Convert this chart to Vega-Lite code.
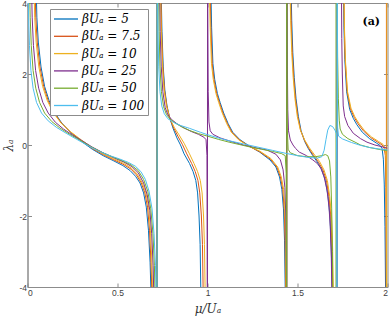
{
"$schema":"https://vega.github.io/schema/vega-lite/v6.json",
"width":360,"height":284,
"autosize":{"type":"none"},
"padding":{"left":27.5,"top":3,"right":2.5,"bottom":30},
"background":"white",
"config":{
 "view":{"stroke":"#8c8c8c","strokeWidth":1},
 "axis":{"grid":false,"domainColor":"#8c8c8c","tickColor":"#8c8c8c","tickSize":-4,"labelColor":"#404040","labelFont":"Liberation Sans","labelFontSize":8.5,"labelPadding":5,"titleFont":"DejaVu Serif","titleFontStyle":"italic","titleFontWeight":"normal","titleFontSize":12,"titleColor":"#333333"}
},
"datasets":{
"ann":[{"x":1.91,"y":3.46,"t":"(a)"}],
"curves":[
{"s":"5","x":0.048,"y":4.5},{"s":"5","x":0.052,"y":3.6},{"s":"5","x":0.06,"y":2.9},{"s":"5","x":0.075,"y":2.2},{"s":"5","x":0.095,"y":1.65},{"s":"5","x":0.12,"y":1.25},{"s":"5","x":0.15,"y":0.92},{"s":"5","x":0.19,"y":0.62},{"s":"5","x":0.24,"y":0.35},{"s":"5","x":0.3,"y":0.1},{"s":"5","x":0.36,"y":-0.12},{"s":"5","x":0.42,"y":-0.3},{"s":"5","x":0.48,"y":-0.45},{"s":"5","x":0.53,"y":-0.58},{"s":"5","x":0.57,"y":-0.72},{"s":"5","x":0.6,"y":-0.88},{"s":"5","x":0.625,"y":-1.07},{"s":"5","x":0.645,"y":-1.35},{"s":"5","x":0.66,"y":-1.75},{"s":"5","x":0.672,"y":-2.4},{"s":"5","x":0.681,"y":-3.3},{"s":"5","x":0.688,"y":-4.5},{"s":"5","x":0.7195,"y":-60},{"s":"5","x":0.7205,"y":60},
{"s":"5","x":0.742,"y":4.5},{"s":"5","x":0.747,"y":3.2},{"s":"5","x":0.754,"y":2.2},{"s":"5","x":0.763,"y":1.55},{"s":"5","x":0.775,"y":1.1},{"s":"5","x":0.79,"y":0.76},{"s":"5","x":0.81,"y":0.45},{"s":"5","x":0.83,"y":0.2},{"s":"5","x":0.85,"y":0},{"s":"5","x":0.87,"y":-0.25},{"s":"5","x":0.9,"y":-0.52},{"s":"5","x":0.92,"y":-0.75},{"s":"5","x":0.935,"y":-1},{"s":"5","x":0.945,"y":-1.35},{"s":"5","x":0.953,"y":-2},{"s":"5","x":0.959,"y":-2.8},{"s":"5","x":0.964,"y":-4.5},{"s":"5","x":0.9995,"y":-60},{"s":"5","x":1.0005,"y":60},
{"s":"5","x":1.018,"y":4.5},{"s":"5","x":1.023,"y":3.3},{"s":"5","x":1.03,"y":2.3},{"s":"5","x":1.04,"y":1.85},{"s":"5","x":1.055,"y":1.45},{"s":"5","x":1.07,"y":1.2},{"s":"5","x":1.09,"y":0.9},{"s":"5","x":1.115,"y":0.6},{"s":"5","x":1.14,"y":0.36},{"s":"5","x":1.18,"y":0.15},{"s":"5","x":1.236,"y":-0.04},{"s":"5","x":1.29,"y":-0.2},{"s":"5","x":1.347,"y":-0.42},{"s":"5","x":1.38,"y":-0.62},{"s":"5","x":1.4,"y":-0.9},{"s":"5","x":1.413,"y":-1.25},{"s":"5","x":1.422,"y":-1.8},{"s":"5","x":1.428,"y":-2.7},{"s":"5","x":1.433,"y":-4.5},{"s":"5","x":1.4395,"y":-60},{"s":"5","x":1.4405,"y":60},
{"s":"5","x":1.464,"y":4.5},{"s":"5","x":1.468,"y":3.5},{"s":"5","x":1.474,"y":2.6},{"s":"5","x":1.482,"y":1.9},{"s":"5","x":1.492,"y":1.3},{"s":"5","x":1.505,"y":0.8},{"s":"5","x":1.52,"y":0.4},{"s":"5","x":1.54,"y":0.1},{"s":"5","x":1.56,"y":-0.1},{"s":"5","x":1.585,"y":-0.3},{"s":"5","x":1.61,"y":-0.48},{"s":"5","x":1.635,"y":-0.7},{"s":"5","x":1.655,"y":-1},{"s":"5","x":1.67,"y":-1.45},{"s":"5","x":1.68,"y":-2},{"s":"5","x":1.688,"y":-2.9},{"s":"5","x":1.694,"y":-4.5},{"s":"5","x":1.7195,"y":-60},{"s":"5","x":1.7205,"y":60},
{"s":"5","x":1.755,"y":4.5},{"s":"5","x":1.758,"y":3.3},{"s":"5","x":1.763,"y":2.4},{"s":"5","x":1.773,"y":1.5},{"s":"5","x":1.79,"y":1.0},{"s":"5","x":1.81,"y":0.75},{"s":"5","x":1.83,"y":0.57},{"s":"5","x":1.86,"y":0.36},{"s":"5","x":1.9,"y":0.18},{"s":"5","x":1.94,"y":0.05},{"s":"5","x":1.958,"y":-0.01},{"s":"5","x":1.97,"y":-0.1},{"s":"5","x":1.977,"y":-0.4},{"s":"5","x":1.982,"y":-1.1},{"s":"5","x":1.986,"y":-2.3},{"s":"5","x":1.99,"y":-4.5},

{"s":"7.5","x":0.042,"y":4.5},{"s":"7.5","x":0.046,"y":3.6},{"s":"7.5","x":0.054,"y":2.9},{"s":"7.5","x":0.069,"y":2.2},{"s":"7.5","x":0.09,"y":1.65},{"s":"7.5","x":0.115,"y":1.25},{"s":"7.5","x":0.146,"y":0.92},{"s":"7.5","x":0.188,"y":0.62},{"s":"7.5","x":0.24,"y":0.36},{"s":"7.5","x":0.3,"y":0.12},{"s":"7.5","x":0.36,"y":-0.1},{"s":"7.5","x":0.42,"y":-0.27},{"s":"7.5","x":0.48,"y":-0.42},{"s":"7.5","x":0.53,"y":-0.54},{"s":"7.5","x":0.575,"y":-0.68},{"s":"7.5","x":0.605,"y":-0.84},{"s":"7.5","x":0.632,"y":-1.07},{"s":"7.5","x":0.652,"y":-1.35},{"s":"7.5","x":0.667,"y":-1.75},{"s":"7.5","x":0.678,"y":-2.4},{"s":"7.5","x":0.686,"y":-3.3},{"s":"7.5","x":0.693,"y":-4.5},{"s":"7.5","x":0.7195,"y":-60},{"s":"7.5","x":0.7205,"y":60},
{"s":"7.5","x":0.74,"y":4.5},{"s":"7.5","x":0.745,"y":3.2},{"s":"7.5","x":0.752,"y":2.2},{"s":"7.5","x":0.761,"y":1.55},{"s":"7.5","x":0.774,"y":1.1},{"s":"7.5","x":0.79,"y":0.76},{"s":"7.5","x":0.812,"y":0.48},{"s":"7.5","x":0.835,"y":0.25},{"s":"7.5","x":0.86,"y":0.02},{"s":"7.5","x":0.885,"y":-0.25},{"s":"7.5","x":0.912,"y":-0.52},{"s":"7.5","x":0.932,"y":-0.75},{"s":"7.5","x":0.947,"y":-1},{"s":"7.5","x":0.957,"y":-1.35},{"s":"7.5","x":0.966,"y":-2},{"s":"7.5","x":0.972,"y":-2.8},{"s":"7.5","x":0.977,"y":-4.5},{"s":"7.5","x":0.9995,"y":-60},{"s":"7.5","x":1.0005,"y":60},
{"s":"7.5","x":1.014,"y":4.5},{"s":"7.5","x":1.019,"y":3.3},{"s":"7.5","x":1.026,"y":2.3},{"s":"7.5","x":1.036,"y":1.85},{"s":"7.5","x":1.051,"y":1.45},{"s":"7.5","x":1.066,"y":1.2},{"s":"7.5","x":1.086,"y":0.9},{"s":"7.5","x":1.111,"y":0.6},{"s":"7.5","x":1.136,"y":0.36},{"s":"7.5","x":1.176,"y":0.15},{"s":"7.5","x":1.232,"y":-0.04},{"s":"7.5","x":1.29,"y":-0.19},{"s":"7.5","x":1.35,"y":-0.4},{"s":"7.5","x":1.385,"y":-0.62},{"s":"7.5","x":1.405,"y":-0.9},{"s":"7.5","x":1.418,"y":-1.25},{"s":"7.5","x":1.426,"y":-1.8},{"s":"7.5","x":1.431,"y":-2.7},{"s":"7.5","x":1.435,"y":-4.5},{"s":"7.5","x":1.4395,"y":-60},{"s":"7.5","x":1.4405,"y":60},
{"s":"7.5","x":1.461,"y":4.5},{"s":"7.5","x":1.465,"y":3.5},{"s":"7.5","x":1.471,"y":2.6},{"s":"7.5","x":1.479,"y":1.9},{"s":"7.5","x":1.489,"y":1.3},{"s":"7.5","x":1.502,"y":0.8},{"s":"7.5","x":1.518,"y":0.4},{"s":"7.5","x":1.54,"y":0.12},{"s":"7.5","x":1.563,"y":-0.1},{"s":"7.5","x":1.59,"y":-0.3},{"s":"7.5","x":1.616,"y":-0.48},{"s":"7.5","x":1.641,"y":-0.7},{"s":"7.5","x":1.661,"y":-1},{"s":"7.5","x":1.675,"y":-1.45},{"s":"7.5","x":1.685,"y":-2},{"s":"7.5","x":1.692,"y":-2.9},{"s":"7.5","x":1.697,"y":-4.5},{"s":"7.5","x":1.7195,"y":-60},{"s":"7.5","x":1.7205,"y":60},
{"s":"7.5","x":1.757,"y":4.5},{"s":"7.5","x":1.76,"y":3.3},{"s":"7.5","x":1.765,"y":2.4},{"s":"7.5","x":1.776,"y":1.5},{"s":"7.5","x":1.794,"y":1.02},{"s":"7.5","x":1.815,"y":0.78},{"s":"7.5","x":1.836,"y":0.6},{"s":"7.5","x":1.866,"y":0.4},{"s":"7.5","x":1.906,"y":0.21},{"s":"7.5","x":1.946,"y":0.08},{"s":"7.5","x":1.97,"y":0.0},{"s":"7.5","x":1.982,"y":-0.1},{"s":"7.5","x":1.988,"y":-0.3},{"s":"7.5","x":1.991,"y":-1.2},{"s":"7.5","x":1.993,"y":-4.5},{"s":"7.5","x":1.9935,"y":-60},{"s":"7.5","x":1.9945,"y":60},

{"s":"10","x":0.036,"y":4.5},{"s":"10","x":0.04,"y":3.6},{"s":"10","x":0.048,"y":2.9},{"s":"10","x":0.063,"y":2.2},{"s":"10","x":0.084,"y":1.65},{"s":"10","x":0.11,"y":1.25},{"s":"10","x":0.142,"y":0.92},{"s":"10","x":0.186,"y":0.62},{"s":"10","x":0.24,"y":0.37},{"s":"10","x":0.3,"y":0.14},{"s":"10","x":0.36,"y":-0.08},{"s":"10","x":0.42,"y":-0.25},{"s":"10","x":0.48,"y":-0.39},{"s":"10","x":0.535,"y":-0.52},{"s":"10","x":0.58,"y":-0.66},{"s":"10","x":0.61,"y":-0.82},{"s":"10","x":0.638,"y":-1.07},{"s":"10","x":0.658,"y":-1.35},{"s":"10","x":0.673,"y":-1.75},{"s":"10","x":0.683,"y":-2.4},{"s":"10","x":0.691,"y":-3.3},{"s":"10","x":0.697,"y":-4.5},{"s":"10","x":0.7195,"y":-60},{"s":"10","x":0.7205,"y":60},
{"s":"10","x":0.738,"y":4.5},{"s":"10","x":0.743,"y":3.2},{"s":"10","x":0.75,"y":2.2},{"s":"10","x":0.759,"y":1.55},{"s":"10","x":0.772,"y":1.1},{"s":"10","x":0.79,"y":0.76},{"s":"10","x":0.815,"y":0.5},{"s":"10","x":0.84,"y":0.3},{"s":"10","x":0.87,"y":0.05},{"s":"10","x":0.9,"y":-0.25},{"s":"10","x":0.925,"y":-0.52},{"s":"10","x":0.945,"y":-0.75},{"s":"10","x":0.96,"y":-1},{"s":"10","x":0.97,"y":-1.35},{"s":"10","x":0.978,"y":-2},{"s":"10","x":0.983,"y":-2.8},{"s":"10","x":0.988,"y":-4.5},{"s":"10","x":0.9995,"y":-60},{"s":"10","x":1.0005,"y":60},
{"s":"10","x":1.01,"y":4.5},{"s":"10","x":1.015,"y":3.3},{"s":"10","x":1.022,"y":2.3},{"s":"10","x":1.032,"y":1.85},{"s":"10","x":1.047,"y":1.45},{"s":"10","x":1.062,"y":1.2},{"s":"10","x":1.082,"y":0.9},{"s":"10","x":1.107,"y":0.6},{"s":"10","x":1.132,"y":0.36},{"s":"10","x":1.172,"y":0.15},{"s":"10","x":1.228,"y":-0.03},{"s":"10","x":1.29,"y":-0.17},{"s":"10","x":1.352,"y":-0.38},{"s":"10","x":1.39,"y":-0.62},{"s":"10","x":1.41,"y":-0.9},{"s":"10","x":1.423,"y":-1.25},{"s":"10","x":1.43,"y":-1.8},{"s":"10","x":1.434,"y":-2.7},{"s":"10","x":1.437,"y":-4.5},{"s":"10","x":1.4395,"y":-60},{"s":"10","x":1.4405,"y":60},
{"s":"10","x":1.458,"y":4.5},{"s":"10","x":1.462,"y":3.5},{"s":"10","x":1.468,"y":2.6},{"s":"10","x":1.476,"y":1.9},{"s":"10","x":1.486,"y":1.3},{"s":"10","x":1.499,"y":0.8},{"s":"10","x":1.516,"y":0.42},{"s":"10","x":1.54,"y":0.14},{"s":"10","x":1.566,"y":-0.08},{"s":"10","x":1.595,"y":-0.28},{"s":"10","x":1.622,"y":-0.46},{"s":"10","x":1.647,"y":-0.7},{"s":"10","x":1.666,"y":-1},{"s":"10","x":1.679,"y":-1.45},{"s":"10","x":1.689,"y":-2},{"s":"10","x":1.695,"y":-2.9},{"s":"10","x":1.7,"y":-4.5},{"s":"10","x":1.7195,"y":-60},{"s":"10","x":1.7205,"y":60},
{"s":"10","x":1.758,"y":4.5},{"s":"10","x":1.761,"y":3.3},{"s":"10","x":1.766,"y":2.4},{"s":"10","x":1.778,"y":1.5},{"s":"10","x":1.797,"y":1.04},{"s":"10","x":1.818,"y":0.8},{"s":"10","x":1.84,"y":0.62},{"s":"10","x":1.87,"y":0.42},{"s":"10","x":1.91,"y":0.23},{"s":"10","x":1.95,"y":0.1},{"s":"10","x":1.975,"y":0.02},{"s":"10","x":1.986,"y":-0.08},{"s":"10","x":1.991,"y":-0.3},{"s":"10","x":1.9935,"y":-1.2},{"s":"10","x":1.9955,"y":-4.5},{"s":"10","x":1.996,"y":-60},{"s":"10","x":1.997,"y":60},

{"s":"25","x":0.022,"y":4.5},{"s":"25","x":0.026,"y":3.6},{"s":"25","x":0.033,"y":2.8},{"s":"25","x":0.045,"y":2.1},{"s":"25","x":0.062,"y":1.6},{"s":"25","x":0.085,"y":1.2},{"s":"25","x":0.115,"y":0.9},{"s":"25","x":0.155,"y":0.64},{"s":"25","x":0.2,"y":0.45},{"s":"25","x":0.25,"y":0.28},{"s":"25","x":0.3,"y":0.13},{"s":"25","x":0.36,"y":-0.06},{"s":"25","x":0.42,"y":-0.22},{"s":"25","x":0.48,"y":-0.36},{"s":"25","x":0.535,"y":-0.48},{"s":"25","x":0.58,"y":-0.61},{"s":"25","x":0.615,"y":-0.78},{"s":"25","x":0.645,"y":-1.07},{"s":"25","x":0.665,"y":-1.4},{"s":"25","x":0.68,"y":-1.85},{"s":"25","x":0.69,"y":-2.5},{"s":"25","x":0.698,"y":-3.4},{"s":"25","x":0.703,"y":-4.5},{"s":"25","x":0.7195,"y":-60},{"s":"25","x":0.7205,"y":60},
{"s":"25","x":0.733,"y":4.5},{"s":"25","x":0.737,"y":3.2},{"s":"25","x":0.743,"y":2.2},{"s":"25","x":0.752,"y":1.5},{"s":"25","x":0.765,"y":1.05},{"s":"25","x":0.78,"y":0.85},{"s":"25","x":0.8,"y":0.72},{"s":"25","x":0.83,"y":0.6},{"s":"25","x":0.87,"y":0.48},{"s":"25","x":0.91,"y":0.38},{"s":"25","x":0.95,"y":0.3},{"s":"25","x":0.98,"y":0.22},{"s":"25","x":0.992,"y":0.15},{"s":"25","x":0.997,"y":-0.3},{"s":"25","x":0.999,"y":-4.5},{"s":"25","x":0.9995,"y":-60},{"s":"25","x":1.0005,"y":60},
{"s":"25","x":1.001,"y":4.5},{"s":"25","x":1.004,"y":1.5},{"s":"25","x":1.008,"y":0.65},{"s":"25","x":1.015,"y":0.4},{"s":"25","x":1.03,"y":0.3},{"s":"25","x":1.07,"y":0.2},{"s":"25","x":1.13,"y":0.1},{"s":"25","x":1.2,"y":0.0},{"s":"25","x":1.27,"y":-0.08},{"s":"25","x":1.33,"y":-0.14},{"s":"25","x":1.38,"y":-0.26},{"s":"25","x":1.405,"y":-0.42},{"s":"25","x":1.42,"y":-0.7},{"s":"25","x":1.43,"y":-1.2},{"s":"25","x":1.435,"y":-2.0},{"s":"25","x":1.4375,"y":-3.2},{"s":"25","x":1.439,"y":-4.5},{"s":"25","x":1.4395,"y":-60},{"s":"25","x":1.4405,"y":60},
{"s":"25","x":1.442,"y":4.5},{"s":"25","x":1.444,"y":2.2},{"s":"25","x":1.446,"y":1.0},{"s":"25","x":1.45,"y":0.4},{"s":"25","x":1.46,"y":0.14},{"s":"25","x":1.475,"y":0.0},{"s":"25","x":1.49,"y":-0.1},{"s":"25","x":1.51,"y":-0.2},{"s":"25","x":1.55,"y":-0.3},{"s":"25","x":1.585,"y":-0.42},{"s":"25","x":1.61,"y":-0.52},{"s":"25","x":1.63,"y":-0.66},{"s":"25","x":1.648,"y":-0.9},{"s":"25","x":1.664,"y":-1.27},{"s":"25","x":1.675,"y":-1.75},{"s":"25","x":1.682,"y":-2.3},{"s":"25","x":1.688,"y":-3.2},{"s":"25","x":1.692,"y":-4.5},{"s":"25","x":1.7195,"y":-60},{"s":"25","x":1.7205,"y":60},
{"s":"25","x":1.744,"y":4.5},{"s":"25","x":1.746,"y":3.0},{"s":"25","x":1.749,"y":2.0},{"s":"25","x":1.754,"y":1.1},{"s":"25","x":1.762,"y":0.8},{"s":"25","x":1.78,"y":0.55},{"s":"25","x":1.81,"y":0.33},{"s":"25","x":1.85,"y":0.18},{"s":"25","x":1.886,"y":0.08},{"s":"25","x":1.93,"y":0.0},{"s":"25","x":1.97,"y":-0.05},{"s":"25","x":2.0,"y":-0.09},

{"s":"50","x":0.011,"y":4.5},{"s":"50","x":0.015,"y":3.6},{"s":"50","x":0.021,"y":2.8},{"s":"50","x":0.031,"y":2.1},{"s":"50","x":0.046,"y":1.6},{"s":"50","x":0.067,"y":1.2},{"s":"50","x":0.095,"y":0.9},{"s":"50","x":0.135,"y":0.66},{"s":"50","x":0.18,"y":0.48},{"s":"50","x":0.235,"y":0.3},{"s":"50","x":0.29,"y":0.14},{"s":"50","x":0.35,"y":-0.04},{"s":"50","x":0.41,"y":-0.2},{"s":"50","x":0.47,"y":-0.33},{"s":"50","x":0.525,"y":-0.44},{"s":"50","x":0.575,"y":-0.56},{"s":"50","x":0.615,"y":-0.72},{"s":"50","x":0.645,"y":-0.97},{"s":"50","x":0.668,"y":-1.3},{"s":"50","x":0.685,"y":-1.8},{"s":"50","x":0.697,"y":-2.5},{"s":"50","x":0.705,"y":-3.4},{"s":"50","x":0.71,"y":-4.5},{"s":"50","x":0.7195,"y":-60},{"s":"50","x":0.7205,"y":60},
{"s":"50","x":0.728,"y":4.5},{"s":"50","x":0.731,"y":3.2},{"s":"50","x":0.736,"y":2.2},{"s":"50","x":0.744,"y":1.5},{"s":"50","x":0.756,"y":1.08},{"s":"50","x":0.772,"y":0.86},{"s":"50","x":0.79,"y":0.74},{"s":"50","x":0.82,"y":0.62},{"s":"50","x":0.86,"y":0.5},{"s":"50","x":0.9,"y":0.41},{"s":"50","x":0.95,"y":0.32},{"s":"50","x":1.0,"y":0.25},{"s":"50","x":1.06,"y":0.16},{"s":"50","x":1.12,"y":0.08},{"s":"50","x":1.18,"y":0.01},{"s":"50","x":1.24,"y":-0.06},{"s":"50","x":1.3,"y":-0.12},{"s":"50","x":1.36,"y":-0.18},{"s":"50","x":1.41,"y":-0.24},{"s":"50","x":1.432,"y":-0.3},{"s":"50","x":1.437,"y":-0.8},{"s":"50","x":1.439,"y":-4.5},{"s":"50","x":1.4395,"y":-60},{"s":"50","x":1.4405,"y":60},
{"s":"50","x":1.441,"y":4.5},{"s":"50","x":1.443,"y":0.5},{"s":"50","x":1.448,"y":-0.12},{"s":"50","x":1.46,"y":-0.22},{"s":"50","x":1.5,"y":-0.3},{"s":"50","x":1.55,"y":-0.33},{"s":"50","x":1.6,"y":-0.33},{"s":"50","x":1.635,"y":-0.3},{"s":"50","x":1.655,"y":-0.27},{"s":"50","x":1.668,"y":-0.3},{"s":"50","x":1.678,"y":-0.45},{"s":"50","x":1.685,"y":-0.9},{"s":"50","x":1.69,"y":-1.8},{"s":"50","x":1.694,"y":-3.0},{"s":"50","x":1.697,"y":-4.5},{"s":"50","x":1.7135,"y":-60},{"s":"50","x":1.7145,"y":60},
{"s":"50","x":1.72,"y":4.5},{"s":"50","x":1.723,"y":2.5},{"s":"50","x":1.727,"y":1.3},{"s":"50","x":1.732,"y":0.7},{"s":"50","x":1.737,"y":0.45},{"s":"50","x":1.75,"y":0.3},{"s":"50","x":1.78,"y":0.18},{"s":"50","x":1.82,"y":0.08},{"s":"50","x":1.85,"y":0.0},{"s":"50","x":1.9,"y":-0.07},{"s":"50","x":1.96,"y":-0.13},{"s":"50","x":2.0,"y":-0.16},

{"s":"100","x":0.003,"y":4.5},{"s":"100","x":0.006,"y":3.6},{"s":"100","x":0.011,"y":2.8},{"s":"100","x":0.019,"y":2.1},{"s":"100","x":0.031,"y":1.6},{"s":"100","x":0.05,"y":1.2},{"s":"100","x":0.078,"y":0.9},{"s":"100","x":0.115,"y":0.68},{"s":"100","x":0.16,"y":0.5},{"s":"100","x":0.215,"y":0.33},{"s":"100","x":0.27,"y":0.17},{"s":"100","x":0.33,"y":0.0},{"s":"100","x":0.39,"y":-0.16},{"s":"100","x":0.45,"y":-0.29},{"s":"100","x":0.51,"y":-0.39},{"s":"100","x":0.56,"y":-0.49},{"s":"100","x":0.6,"y":-0.6},{"s":"100","x":0.63,"y":-0.75},{"s":"100","x":0.655,"y":-0.97},{"s":"100","x":0.675,"y":-1.3},{"s":"100","x":0.692,"y":-1.8},{"s":"100","x":0.703,"y":-2.5},{"s":"100","x":0.711,"y":-3.4},{"s":"100","x":0.716,"y":-4.5},{"s":"100","x":0.7195,"y":-60},{"s":"100","x":0.7205,"y":60},
{"s":"100","x":0.722,"y":4.5},{"s":"100","x":0.725,"y":3.2},{"s":"100","x":0.729,"y":2.2},{"s":"100","x":0.736,"y":1.5},{"s":"100","x":0.746,"y":1.1},{"s":"100","x":0.76,"y":0.88},{"s":"100","x":0.78,"y":0.74},{"s":"100","x":0.81,"y":0.64},{"s":"100","x":0.85,"y":0.55},{"s":"100","x":0.9,"y":0.47},{"s":"100","x":0.96,"y":0.36},{"s":"100","x":1.0,"y":0.29},{"s":"100","x":1.06,"y":0.2},{"s":"100","x":1.12,"y":0.12},{"s":"100","x":1.2,"y":0.03},{"s":"100","x":1.28,"y":-0.06},{"s":"100","x":1.36,"y":-0.15},{"s":"100","x":1.44,"y":-0.24},{"s":"100","x":1.5,"y":-0.3},{"s":"100","x":1.56,"y":-0.35},{"s":"100","x":1.61,"y":-0.37},{"s":"100","x":1.635,"y":-0.33},{"s":"100","x":1.648,"y":-0.15},{"s":"100","x":1.658,"y":0.15},{"s":"100","x":1.668,"y":0.42},{"s":"100","x":1.68,"y":0.55},{"s":"100","x":1.695,"y":0.52},{"s":"100","x":1.708,"y":0.42},{"s":"100","x":1.716,"y":0.32},{"s":"100","x":1.718,"y":-0.5},{"s":"100","x":1.719,"y":-4.5},{"s":"100","x":1.7195,"y":-60},{"s":"100","x":1.7205,"y":60},
{"s":"100","x":1.721,"y":4.5},{"s":"100","x":1.723,"y":0.5},{"s":"100","x":1.728,"y":0.25},{"s":"100","x":1.75,"y":0.17},{"s":"100","x":1.8,"y":0.07},{"s":"100","x":1.85,"y":-0.01},{"s":"100","x":1.9,"y":-0.07},{"s":"100","x":1.95,"y":-0.11},{"s":"100","x":2.0,"y":-0.14}
]},
"layer":[
{"data":{"name":"curves"},
 "mark":{"type":"line","clip":true,"strokeWidth":1},
 "encoding":{
  "x":{"field":"x","type":"quantitative","scale":{"domain":[0,2],"nice":false,"zero":false},
       "axis":{"values":[0,0.5,1,1.5,2],"format":"~g","title":"μ/Uₐ","titlePadding":7}},
  "y":{"field":"y","type":"quantitative","scale":{"domain":[-4,4],"nice":false,"zero":false},
       "axis":{"values":[-4,-2,0,2,4],"format":"~g","title":"λₐ","titlePadding":3,"labelExpr":"replace(datum.label,'−','-')"}},
  "color":{"field":"s","type":"nominal",
       "scale":{"domain":["5","7.5","10","25","50","100"],"range":["#0072BD","#D95319","#EDB120","#7E2F8E","#77AC30","#4DBEEE"]},
       "legend":{"title":null,"orient":"none","legendX":22.5,"legendY":6,"symbolType":"M-1,0H3","symbolSize":144,"symbolStrokeWidth":1.3,
                 "labelFont":"DejaVu Serif","labelFontSize":12,"labelFontStyle":"italic","labelColor":"black","labelOffset":15,
                 "labelExpr":"'βUₐ = ' + datum.label","fillColor":"white","strokeColor":"#8c8c8c","padding":3,"rowPadding":4.3}}
 }},
{"data":{"name":"ann"},
 "mark":{"type":"text","font":"DejaVu Serif","fontWeight":"bold","fontSize":11,"color":"black"},
 "encoding":{
  "x":{"field":"x","type":"quantitative","scale":{"domain":[0,2],"nice":false,"zero":false},
       "axis":{"orient":"top","values":[0,0.5,1,1.5,2],"labels":false,"title":null,"domain":false}},
  "y":{"field":"y","type":"quantitative","scale":{"domain":[-4,4],"nice":false,"zero":false},
       "axis":{"orient":"right","values":[-4,-2,0,2,4],"labels":false,"title":null,"domain":false}},
  "text":{"field":"t"}
 }}
],
"resolve":{"axis":{"x":"independent","y":"independent"}}
}
